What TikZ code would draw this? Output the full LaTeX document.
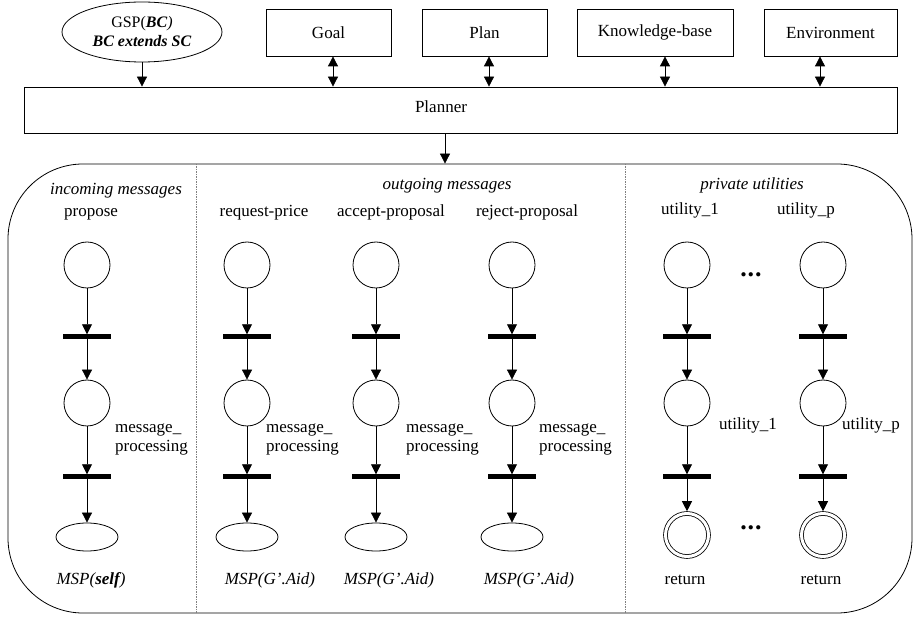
\documentclass[tikz,border=0pt]{standalone}
\usepackage{fontspec}
\setmainfont{Liberation Serif}
\usetikzlibrary{arrows.meta,shapes.geometric,calc}
\begin{document}
\begin{tikzpicture}[x=1pt,y=-1pt,
  every node/.style={font=\fontsize{17}{20}\selectfont},
  lw/.style={line width=0.8pt},
  boxnode/.style={draw, lw, inner sep=0, minimum height=47pt},
  place/.style={draw, circle, minimum size=46pt, inner sep=0, lw},
  tbar/.style={fill=black, minimum width=48pt, minimum height=5pt, inner sep=0},
  outp/.style={draw, ellipse, minimum width=62pt, minimum height=28pt, inner sep=0, lw},
  fin/.style={draw, circle, double, double distance=3pt, minimum size=43pt, inner sep=0, lw, outer sep=2.3pt},
  arr/.style={-{Triangle[length=10pt,width=10pt]}, lw},
  darr/.style={{Triangle[length=10pt,width=10pt]}-{Triangle[length=10pt,width=10pt]}, lw},
  lbl/.style={inner sep=0, text height=0.7em, text depth=0.2em},
  divider/.style={gray, line width=0.6pt, dash pattern=on 1.5pt off 1pt},
  dotsnode/.style={inner sep=0, font=\fontsize{26}{26}\selectfont\bfseries}
]
\useasboundingbox (0,0) rectangle (919,617);

% top row
\node[draw, ellipse, lw, minimum width=160pt, minimum height=60pt, inner sep=0, align=center,
      font=\fontsize{16}{20}\selectfont] (gsp) at (142,32)
  {GSP(\textbf{\textit{BC}}\textit{)}\\[-1pt]\textbf{\textit{BC extends SC}}};
\node[boxnode, minimum width=125pt] (goal) at (328.5,32.5) {Goal};
\node[boxnode, minimum width=125pt] (plan) at (484.5,32.5) {Plan};
\node[boxnode, minimum width=156pt] (kb) at (655,32.5) {Knowledge-base};
\node[boxnode, minimum width=133pt] (env) at (830.5,32.5) {Environment};

\node[draw, lw, minimum width=873pt, minimum height=46pt, inner sep=0] (planner) at (460.5,110) {};
\node[lbl] (plannertxt) at (441,110) {Planner};

\draw[arr] (gsp.south) -- (gsp.south |- planner.north);
\coordinate (ga) at ([xshift=4.5pt]goal.south);
\coordinate (pla) at ([xshift=4.5pt]plan.south);
\coordinate (kba) at ([xshift=10pt]kb.south);
\coordinate (ena) at ([xshift=-10.5pt]env.south);
\draw[darr] (ga) -- (ga |- planner.north);
\draw[darr] (pla) -- (pla |- planner.north);
\draw[darr] (kba) -- (kba |- planner.north);
\draw[darr] (ena) -- (ena |- planner.north);

% container
\node[draw, lw, rounded corners=75pt, minimum width=904pt, minimum height=449pt, inner sep=0] (box) at (460,388.5) {};
\coordinate (pa) at ([xshift=-15.5pt]planner.south);
\draw[arr] (pa) -- (pa |- box.north);

\coordinate (d1) at (196,388);
\coordinate (d2) at (625,388);
\draw[divider] (d1 |- box.north) -- (d1 |- box.south);
\draw[divider] (d2 |- box.north) -- (d2 |- box.south);

% section titles
\node[lbl] (tin) at (116,192) {\textit{incoming messages}};
\node[lbl] (tout) at (447,187) {\textit{outgoing messages}};
\node[lbl] (tpriv) at (752,187) {\textit{private utilities}};

% column headers
\node[lbl] (h1) at (91,214) {propose};
\node[lbl] (h2) at (264,214) {request-price};
\node[lbl] (h3) at (391,214) {accept-proposal};
\node[lbl] (h4) at (527,214) {reject-proposal};
\node[lbl] (h5) at (690,212) {utility\_1};
\node[lbl] (h6) at (806,212) {utility\_p};

% message columns
\foreach \i/\x in {1/87, 2/247, 3/376, 4/512} {
  \node[place] (pa\i) at (\x,265) {};
  \node[tbar] (ta\i) at (\x,337) {};
  \node[place] (pb\i) at (\x,403) {};
  \node[tbar] (tb\i) at (\x,477) {};
  \node[outp] (po\i) at (\x,537) {};
  \draw[arr] (pa\i) -- (ta\i.north);
  \draw[arr] (ta\i.center) -- (pb\i);
  \draw[arr] (pb\i) -- (tb\i.north);
  \draw[arr] (tb\i.center) -- (po\i);
}
% utility columns
\foreach \i/\x in {5/687, 6/823} {
  \node[place] (pa\i) at (\x,265) {};
  \node[tbar] (ta\i) at (\x,337) {};
  \node[place] (pb\i) at (\x,403) {};
  \node[tbar] (tb\i) at (\x,477) {};
  \node[fin] (po\i) at (\x,535) {};
  \draw[arr] (pa\i) -- (ta\i.north);
  \draw[arr] (ta\i.center) -- (pb\i);
  \draw[arr] (pb\i) -- (tb\i.north);
  \draw[arr] (tb\i.center) -- (po\i);
}

% side labels
\foreach \i/\x in {1/115, 2/266, 3/406, 4/539} {
  \node[inner sep=0, anchor=north west, align=left, font=\fontsize{17}{18.5}\selectfont] (m\i) at (\x,424) {message\_\\processing};
}
\node[lbl, anchor=west] (u1) at (719,427) {utility\_1};
\node[lbl, anchor=west] (u2) at (842,427) {utility\_p};

% bottom labels
\node[lbl] (b1) at (91,582) {\textit{MSP(\textbf{self})}};
\node[lbl] (b2) at (270,582) {\textit{MSP(G’.Aid)}};
\node[lbl] (b3) at (389,582) {\textit{MSP(G’.Aid)}};
\node[lbl] (b4) at (529,582) {\textit{MSP(G’.Aid)}};
\node[lbl] (r1) at (685,582) {return};
\node[lbl] (r2) at (821,582) {return};

% ellipsis dots
\node[dotsnode] (dots1) at (751,275) {.\kern1pt.\kern1pt.};
\node[dotsnode] (dots2) at (751,528) {.\kern1pt.\kern1pt.};
\end{tikzpicture}
\end{document}
